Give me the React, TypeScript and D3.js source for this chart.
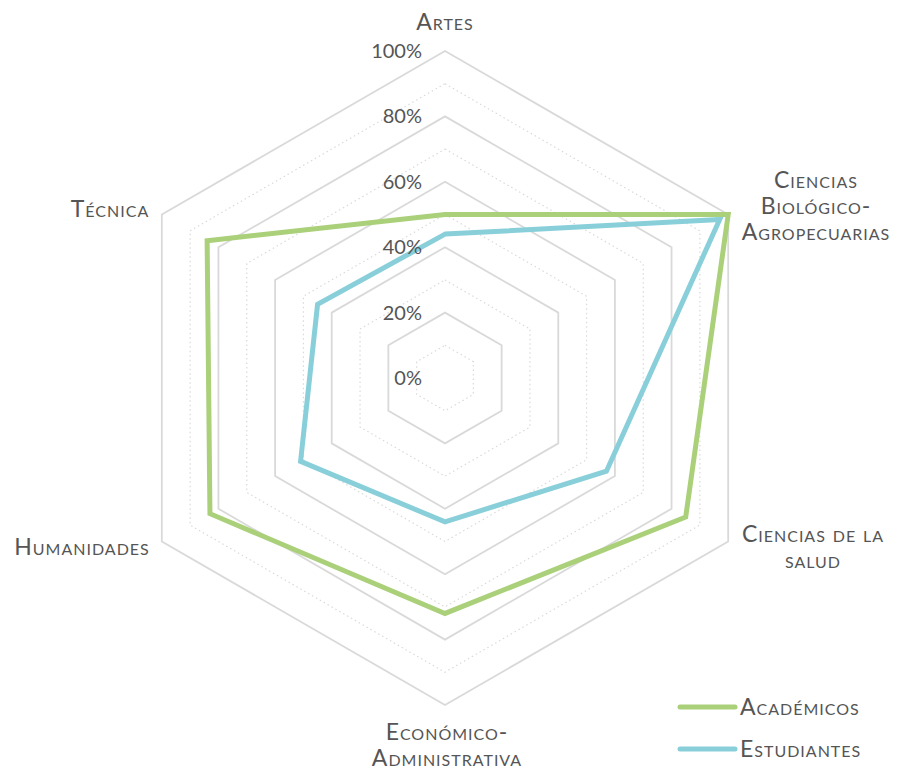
import React from "react";
import * as d3 from "d3";

const categories = [
  ["Artes"],
  ["Ciencias", "Biológico-", "Agropecuarias"],
  ["Ciencias de la", "salud"],
  ["Económico-", "Administrativa"],
  ["Humanidades"],
  ["Técnica"],
];
const academicos = [0.5, 1.0, 0.85, 0.72, 0.83, 0.84];
const estudiantes = [0.44, 0.97, 0.57, 0.44, 0.51, 0.45];
const tickValues = [0, 0.2, 0.4, 0.6, 0.8, 1.0];
const minorValues = [0.1, 0.3, 0.5, 0.7, 0.9];
const seriesNames = ["Académicos", "Estudiantes"];

const W = 908;
const H = 770;
const cx = 445;
const cy = 378;
const R = 327;
const GREEN = "#abd07a";
const BLUE = "#88cfda";
const TEXT = "#555555";
const GRID = "#d9d9d9";
const FONT = "Lato, 'Open Sans', sans-serif";
const LFS = 23;
const LSP = 1;

// label placement: [x, firstBaseline, anchor]
const labelPos: [number, number, string][] = [
  [445, 30, "middle"],
  [816, 188, "middle"],
  [813, 542, "middle"],
  [447, 740, "middle"],
  [82, 555, "middle"],
  [110, 217, "middle"],
];

export default function App() {
  const n = categories.length;
  const r = d3.scaleLinear().domain([0, 1]).range([0, R]);
  const angle = (i: number) => (i * 2 * Math.PI) / n;
  const ring = (v: number) =>
    d3
      .lineRadial<number>()
      .angle((_, i) => angle(i))
      .radius(() => r(v))
      .curve(d3.curveLinearClosed)(d3.range(n) as any) as string;
  const seriesLine = d3
    .lineRadial<number>()
    .angle((_, i) => angle(i))
    .radius((d) => r(d))
    .curve(d3.curveLinearClosed);

  return (
    <svg
      width={W}
      height={H}
      style={{ position: "absolute", left: 0, top: 0, background: "#fff" }}
      fontFamily={FONT}
    >
      <g transform={`translate(${cx},${cy})`}>
        {minorValues.map((v) => (
          <path
            key={"m" + v}
            d={ring(v)}
            fill="none"
            stroke={GRID}
            strokeWidth={1.2}
            strokeDasharray="1.5,3"
          />
        ))}
        {tickValues
          .filter((v) => v > 0)
          .map((v) => (
            <path key={"t" + v} d={ring(v)} fill="none" stroke={GRID} strokeWidth={1.8} />
          ))}
        <path d={seriesLine(estudiantes) as string} fill="none" stroke={BLUE} strokeWidth={5} strokeLinejoin="miter" />
        <path d={seriesLine(academicos) as string} fill="none" stroke={GREEN} strokeWidth={5} strokeLinejoin="miter" />
        {tickValues.map((v) => (
          <text
            key={"l" + v}
            x={-23}
            y={-r(v) + 7}
            textAnchor="end"
            fontSize={20}
            fill={TEXT}
          >
            {d3.format(".0%")(v)}
          </text>
        ))}
      </g>
      {categories.map((lines, i) => (
        <text
          key={"c" + i}
          x={labelPos[i][0]}
          y={labelPos[i][1]}
          textAnchor={labelPos[i][2] as any}
          fontSize={LFS}
          letterSpacing={LSP}
          fill={TEXT}
          style={{ fontVariant: "small-caps" }}
        >
          {lines.map((ln, j) => (
            <tspan key={j} x={labelPos[i][0]} dy={j === 0 ? 0 : 26}>
              {ln}
            </tspan>
          ))}
        </text>
      ))}
      {seriesNames.map((s, i) => (
        <g key={s} transform={`translate(680,${707 + i * 42})`}>
          <line x1={0} x2={55} y1={0} y2={0} stroke={i === 0 ? GREEN : BLUE} strokeWidth={5} strokeLinecap="round" />
          <text x={60} y={8} fontSize={LFS} letterSpacing={LSP} fill={TEXT} style={{ fontVariant: "small-caps" }}>
            {s}
          </text>
        </g>
      ))}
    </svg>
  );
}
